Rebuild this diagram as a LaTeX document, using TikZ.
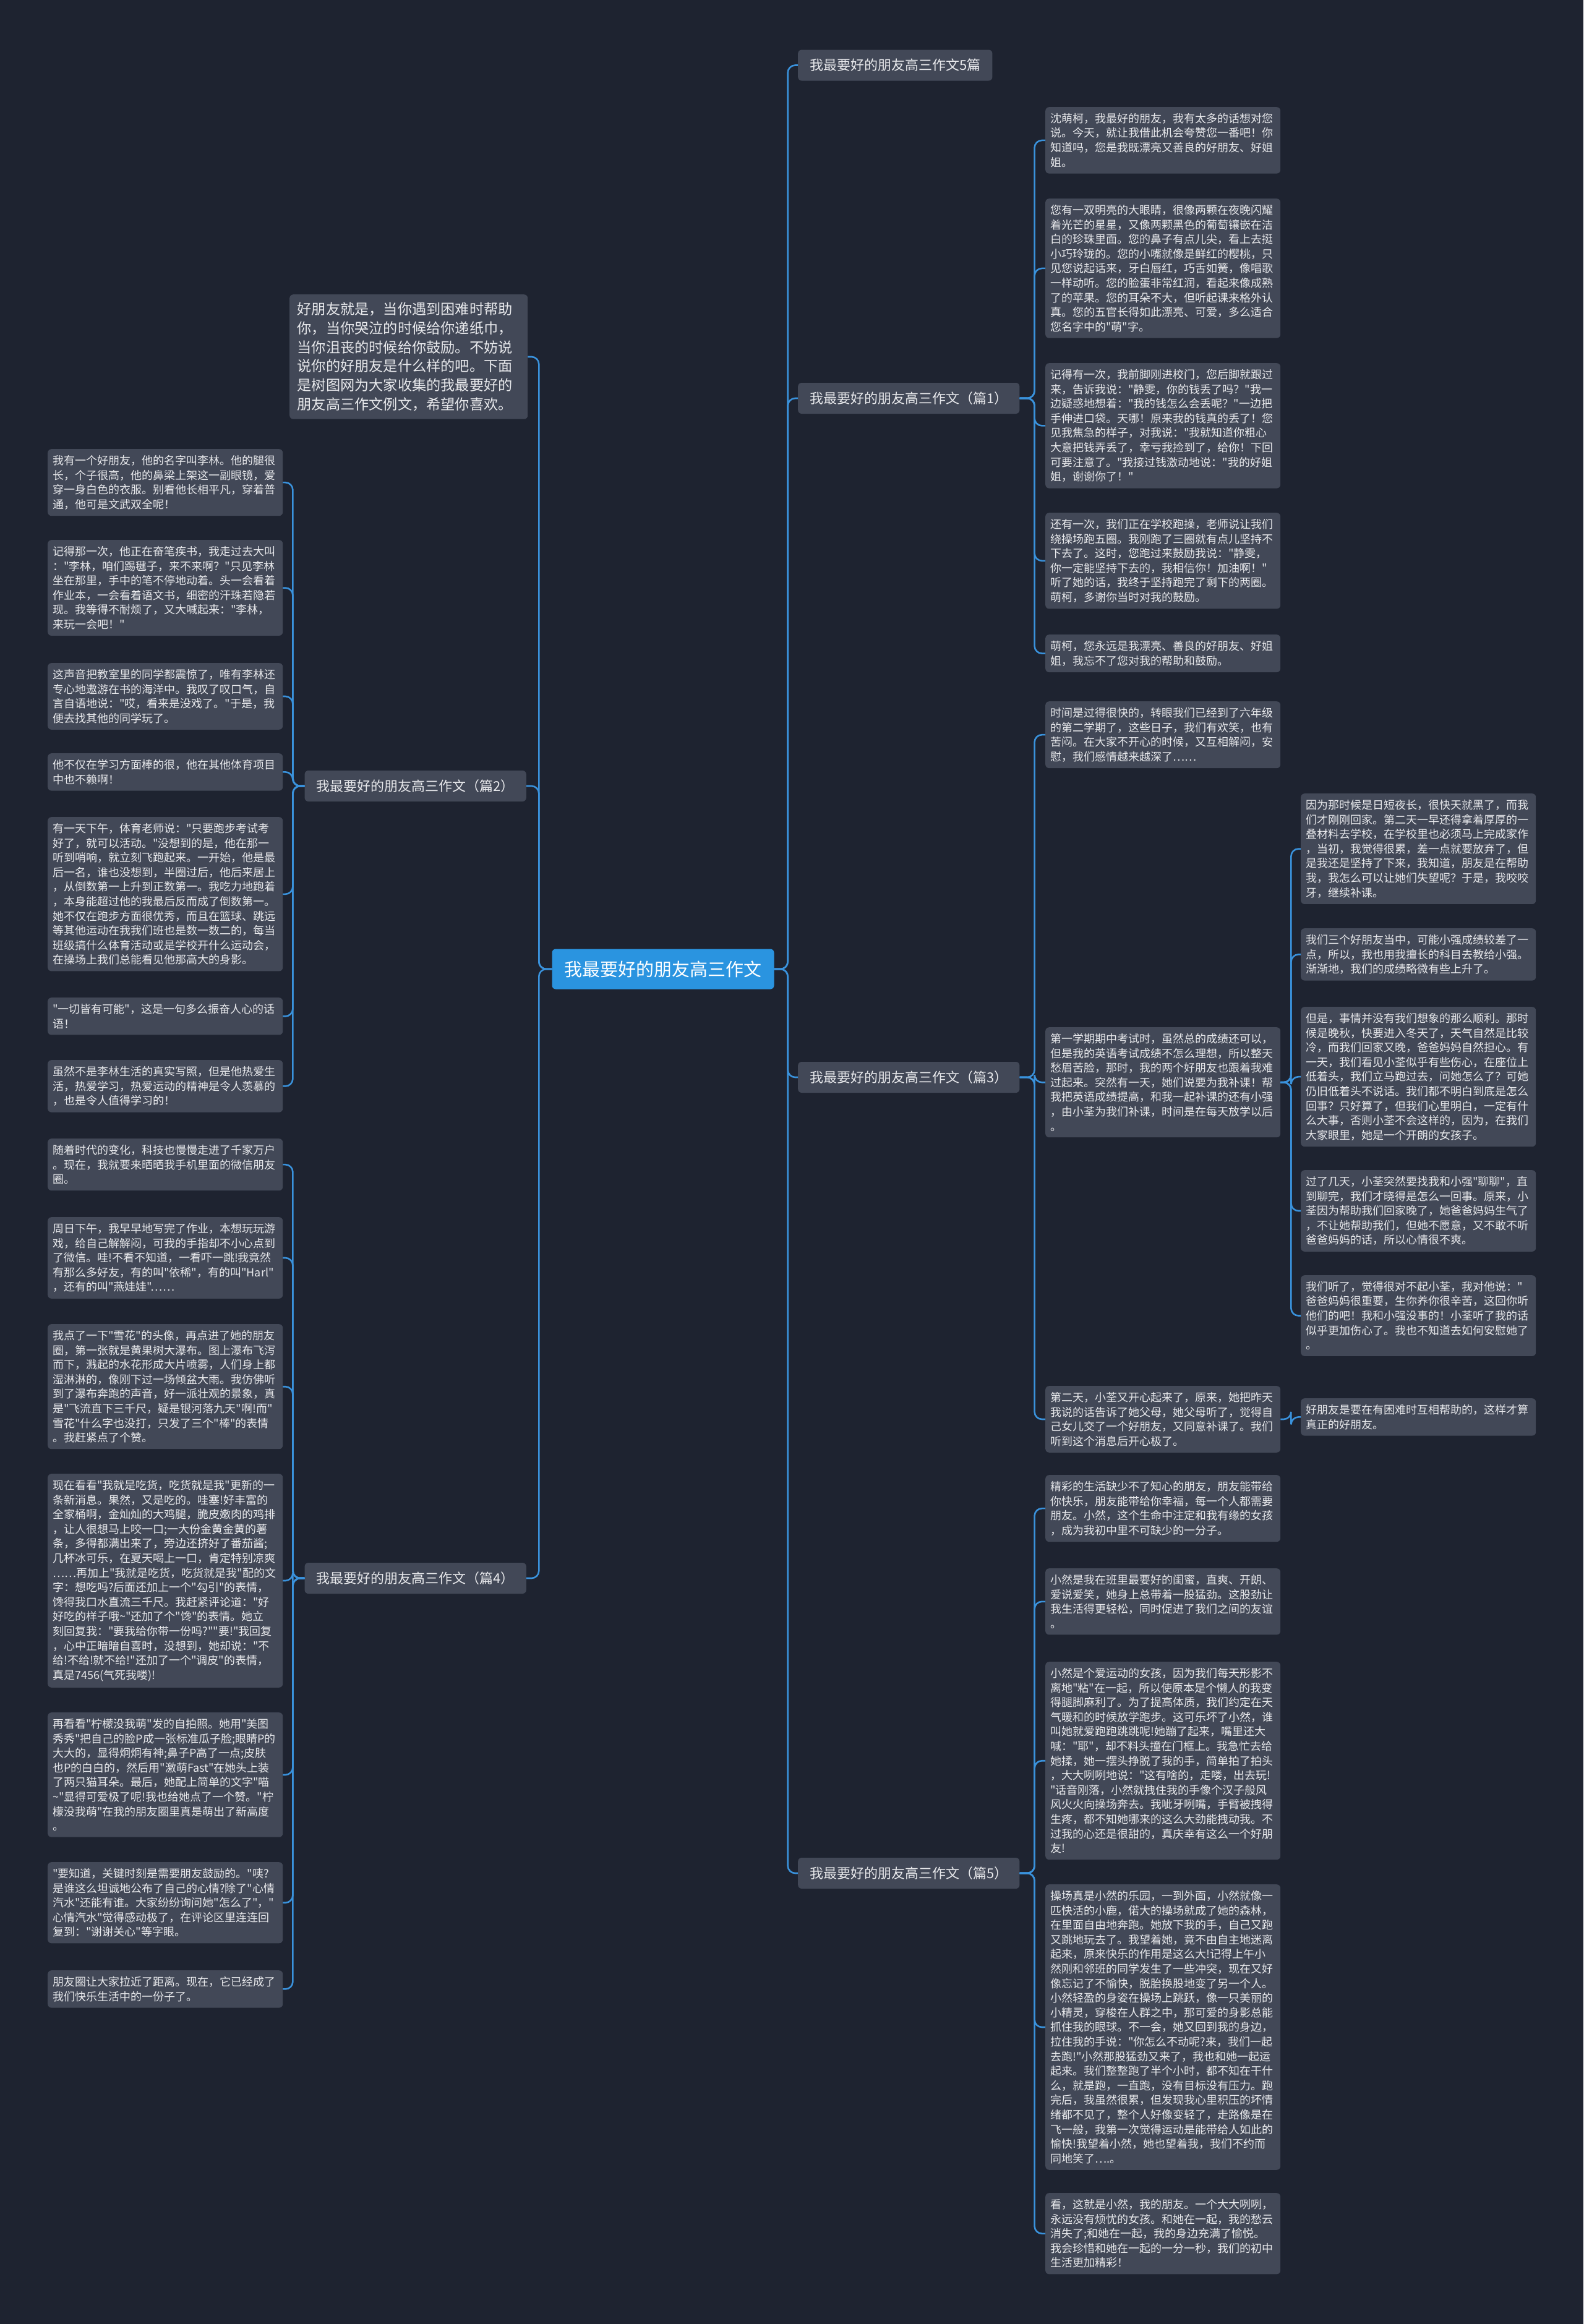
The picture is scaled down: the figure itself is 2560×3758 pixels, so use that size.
\documentclass[tikz,border=0pt]{standalone}
\usepackage{fontspec}
\newfontfamily\shutufont{Noto Sans CJK SC}
\usetikzlibrary{positioning}
\definecolor{shutubg}{HTML}{1E2330}
\definecolor{shutubox}{HTML}{424857}
\definecolor{shututext}{HTML}{E8E9EC}
\definecolor{shutublue}{HTML}{2A94E0}
\definecolor{shutuline}{HTML}{3A92DC}

\tikzset{
  leaf/.style={fill=shutubox, rounded corners=6pt, text=shututext, align=left,
    text width=364pt, inner xsep=8pt, inner ysep=10pt, anchor=north west,
    font=\shutufont\fontsize{18}{23.6}\selectfont},
  introbox/.style={leaf, text width=360pt, inner xsep=12.5pt, inner ysep=13pt,
    font=\shutufont\fontsize{23.2}{30.7}\selectfont},
  branch/.style={fill=shutubox, rounded corners=6pt, text=shututext,
    inner xsep=19pt, minimum height=50pt, font=\shutufont\fontsize{22}{26}\selectfont},
  rootnode/.style={fill=shutublue, rounded corners=6pt, text=white,
    inner xsep=20pt, minimum height=65pt, font=\shutufont\fontsize{29}{34}\selectfont},
  link/.style={draw=shutuline, line width=2.6pt, rounded corners=12pt},
}

\begin{document}
\begin{tikzpicture}[x=1pt,y=-1pt]
  \fill[shutubg] (0,0) rectangle (2560,3758);
  \useasboundingbox (0,0) rectangle (2560,3758);

  % centre and first level
  \node[rootnode] (root) at (1072,1567) {我最要好的朋友高三作文};
  \node[branch,anchor=west] (t0) at (1290,105.5) {我最要好的朋友高三作文5篇};
  \node[branch,anchor=west] (t1) at (1290,644) {我最要好的朋友高三作文（篇1）};
  \node[branch,anchor=west] (t3) at (1290,1742) {我最要好的朋友高三作文（篇3）};
  \node[branch,anchor=west] (t5) at (1290,3029) {我最要好的朋友高三作文（篇5）};
  \node[branch,anchor=east] (t2) at (851,1271) {我最要好的朋友高三作文（篇2）};
  \node[branch,anchor=east] (t4) at (851,2552) {我最要好的朋友高三作文（篇4）};
  \node[introbox] (intro) at (468,476) {好朋友就是，当你遇到困难时帮助\\
    你，当你哭泣的时候给你递纸巾，\\
    当你沮丧的时候给你鼓励。不妨说\\
    说你的好朋友是什么样的吧。下面\\
    是树图网为大家收集的我最要好的\\
    朋友高三作文例文，希望你喜欢。};

  % (篇1)
  \node[leaf] (t1a) at (1690,173) {沈萌柯，我最好的朋友，我有太多的话想对您\\
    说。今天，就让我借此机会夸赞您一番吧！你\\
    知道吗，您是我既漂亮又善良的好朋友、好姐\\
    姐。};
  \node[leaf] (t1b) at (1690,321) {您有一双明亮的大眼睛，很像两颗在夜晚闪耀\\
    着光芒的星星，又像两颗黑色的葡萄镶嵌在洁\\
    白的珍珠里面。您的鼻子有点儿尖，看上去挺\\
    小巧玲珑的。您的小嘴就像是鲜红的樱桃，只\\
    见您说起话来，牙白唇红，巧舌如簧，像唱歌\\
    一样动听。您的脸蛋非常红润，看起来像成熟\\
    了的苹果。您的耳朵不大，但听起课来格外认\\
    真。您的五官长得如此漂亮、可爱，多么适合\\
    您名字中的"萌"字。};
  \node[leaf] (t1c) at (1690,587) {记得有一次，我前脚刚进校门，您后脚就跟过\\
    来，告诉我说："静雯，你的钱丢了吗？"我一\\
    边疑惑地想着："我的钱怎么会丢呢？"一边把\\
    手伸进口袋。天哪！原来我的钱真的丢了！您\\
    见我焦急的样子，对我说："我就知道你粗心\\
    大意把钱弄丢了，幸亏我捡到了，给你！下回\\
    可要注意了。"我接过钱激动地说："我的好姐\\
    姐，谢谢你了！"};
  \node[leaf] (t1d) at (1690,829) {还有一次，我们正在学校跑操，老师说让我们\\
    绕操场跑五圈。我刚跑了三圈就有点儿坚持不\\
    下去了。这时，您跑过来鼓励我说："静雯，\\
    你一定能坚持下去的，我相信你！加油啊！"\\
    听了她的话，我终于坚持跑完了剩下的两圈。\\
    萌柯，多谢你当时对我的鼓励。};
  \node[leaf] (t1e) at (1690,1026) {萌柯，您永远是我漂亮、善良的好朋友、好姐\\
    姐，我忘不了您对我的帮助和鼓励。};

  % (篇3)
  \node[leaf] (t3a) at (1690,1134) {时间是过得很快的，转眼我们已经到了六年级\\
    的第二学期了，这些日子，我们有欢笑，也有\\
    苦闷。在大家不开心的时候，又互相解闷，安\\
    慰，我们感情越来越深了……};
  \node[leaf] (t3b) at (1690,1661) {第一学期期中考试时，虽然总的成绩还可以，\\
    但是我的英语考试成绩不怎么理想，所以整天\\
    愁眉苦脸，那时，我的两个好朋友也跟着我难\\
    过起来。突然有一天，她们说要为我补课！帮\\
    我把英语成绩提高，和我一起补课的还有小强\\
    ，由小荃为我们补课，时间是在每天放学以后\\
    。};
  \node[leaf] (t3c) at (1690,2241) {第二天，小荃又开心起来了，原来，她把昨天\\
    我说的话告诉了她父母，她父母听了，觉得自\\
    己女儿交了一个好朋友，又同意补课了。我们\\
    听到这个消息后开心极了。};
  \node[leaf] (t3ba) at (2103,1283) {因为那时候是日短夜长，很快天就黑了，而我\\
    们才刚刚回家。第二天一早还得拿着厚厚的一\\
    叠材料去学校，在学校里也必须马上完成家作\\
    ，当初，我觉得很累，差一点就要放弃了，但\\
    是我还是坚持了下来，我知道，朋友是在帮助\\
    我，我怎么可以让她们失望呢？于是，我咬咬\\
    牙，继续补课。};
  \node[leaf] (t3bb) at (2103,1501) {我们三个好朋友当中，可能小强成绩较差了一\\
    点，所以，我也用我擅长的科目去教给小强。\\
    渐渐地，我们的成绩略微有些上升了。};
  \node[leaf] (t3bc) at (2103,1628) {但是，事情并没有我们想象的那么顺利。那时\\
    候是晚秋，快要进入冬天了，天气自然是比较\\
    冷，而我们回家又晚，爸爸妈妈自然担心。有\\
    一天，我们看见小荃似乎有些伤心，在座位上\\
    低着头，我们立马跑过去，问她怎么了？可她\\
    仍旧低着头不说话。我们都不明白到底是怎么\\
    回事？只好算了，但我们心里明白，一定有什\\
    么大事，否则小荃不会这样的，因为，在我们\\
    大家眼里，她是一个开朗的女孩子。};
  \node[leaf] (t3bd) at (2103,1892) {过了几天，小荃突然要找我和小强"聊聊"，直\\
    到聊完，我们才晓得是怎么一回事。原来，小\\
    荃因为帮助我们回家晚了，她爸爸妈妈生气了\\
    ，不让她帮助我们，但她不愿意，又不敢不听\\
    爸爸妈妈的话，所以心情很不爽。};
  \node[leaf] (t3be) at (2103,2062) {我们听了，觉得很对不起小荃，我对他说："\\
    爸爸妈妈很重要，生你养你很辛苦，这回你听\\
    他们的吧！我和小强没事的！小荃听了我的话\\
    似乎更加伤心了。我也不知道去如何安慰她了\\
    。};
  \node[leaf] (t3ca) at (2103,2261) {好朋友是要在有困难时互相帮助的，这样才算\\
    真正的好朋友。};

  % (篇5)
  \node[leaf] (t5a) at (1690,2385) {精彩的生活缺少不了知心的朋友，朋友能带给\\
    你快乐，朋友能带给你幸福，每一个人都需要\\
    朋友。小然，这个生命中注定和我有缘的女孩\\
    ，成为我初中里不可缺少的一分子。};
  \node[leaf] (t5b) at (1690,2536) {小然是我在班里最要好的闺蜜，直爽、开朗、\\
    爱说爱笑，她身上总带着一股猛劲。这股劲让\\
    我生活得更轻松，同时促进了我们之间的友谊\\
    。};
  \node[leaf] (t5c) at (1690,2687) {小然是个爱运动的女孩，因为我们每天形影不\\
    离地"粘"在一起，所以使原本是个懒人的我变\\
    得腿脚麻利了。为了提高体质，我们约定在天\\
    气暖和的时候放学跑步。这可乐坏了小然，谁\\
    叫她就爱跑跑跳跳呢!她蹦了起来，嘴里还大\\
    喊："耶"，却不料头撞在门框上。我急忙去给\\
    她揉，她一摆头挣脱了我的手，简单拍了拍头\\
    ，大大咧咧地说："这有啥的，走喽，出去玩!\\
    "话音刚落，小然就拽住我的手像个汉子般风\\
    风火火向操场奔去。我呲牙咧嘴，手臂被拽得\\
    生疼，都不知她哪来的这么大劲能拽动我。不\\
    过我的心还是很甜的，真庆幸有这么一个好朋\\
    友!};
  \node[leaf] (t5d) at (1690,3047) {操场真是小然的乐园，一到外面，小然就像一\\
    匹快活的小鹿，偌大的操场就成了她的森林，\\
    在里面自由地奔跑。她放下我的手，自己又跑\\
    又跳地玩去了。我望着她，竟不由自主地迷离\\
    起来，原来快乐的作用是这么大!记得上午小\\
    然刚和邻班的同学发生了一些冲突，现在又好\\
    像忘记了不愉快，脱胎换股地变了另一个人。\\
    小然轻盈的身姿在操场上跳跃，像一只美丽的\\
    小精灵，穿梭在人群之中，那可爱的身影总能\\
    抓住我的眼球。不一会，她又回到我的身边，\\
    拉住我的手说："你怎么不动呢?来，我们一起\\
    去跑!"小然那股猛劲又来了，我也和她一起运\\
    起来。我们整整跑了半个小时，都不知在干什\\
    么，就是跑，一直跑，没有目标没有压力。跑\\
    完后，我虽然很累，但发现我心里积压的坏情\\
    绪都不见了，整个人好像变轻了，走路像是在\\
    飞一般，我第一次觉得运动是能带给人如此的\\
    愉快!我望着小然，她也望着我，我们不约而\\
    同地笑了….。};
  \node[leaf] (t5e) at (1690,3546) {看，这就是小然，我的朋友。一个大大咧咧，\\
    永远没有烦忧的女孩。和她在一起，我的愁云\\
    消失了;和她在一起，我的身边充满了愉悦。\\
    我会珍惜和她在一起的一分一秒，我们的初中\\
    生活更加精彩！};

  % (篇2)
  \node[leaf] (t2a) at (77,726) {我有一个好朋友，他的名字叫李林。他的腿很\\
    长，个子很高，他的鼻梁上架这一副眼镜，爱\\
    穿一身白色的衣服。别看他长相平凡，穿着普\\
    通，他可是文武双全呢！};
  \node[leaf] (t2b) at (77,873) {记得那一次，他正在奋笔疾书，我走过去大叫\\
    ："李林，咱们踢毽子，来不来啊？"只见李林\\
    坐在那里，手中的笔不停地动着。头一会看着\\
    作业本，一会看着语文书，细密的汗珠若隐若\\
    现。我等得不耐烦了，又大喊起来："李林，\\
    来玩一会吧！"};
  \node[leaf] (t2c) at (77,1072) {这声音把教室里的同学都震惊了，唯有李林还\\
    专心地遨游在书的海洋中。我叹了叹口气，自\\
    言自语地说："哎，看来是没戏了。"于是，我\\
    便去找其他的同学玩了。};
  \node[leaf] (t2d) at (77,1218) {他不仅在学习方面棒的很，他在其他体育项目\\
    中也不赖啊！};
  \node[leaf] (t2e) at (77,1321) {有一天下午，体育老师说："只要跑步考试考\\
    好了，就可以活动。"没想到的是，他在那一\\
    听到哨响，就立刻飞跑起来。一开始，他是最\\
    后一名，谁也没想到，半圈过后，他后来居上\\
    ，从倒数第一上升到正数第一。我吃力地跑着\\
    ，本身能超过他的我最后反而成了倒数第一。\\
    她不仅在跑步方面很优秀，而且在篮球、跳远\\
    等其他运动在我我们班也是数一数二的，每当\\
    班级搞什么体育活动或是学校开什么运动会，\\
    在操场上我们总能看见他那高大的身影。};
  \node[leaf] (t2f) at (77,1613) {"一切皆有可能"，这是一句多么振奋人心的话\\
    语！};
  \node[leaf] (t2g) at (77,1714) {虽然不是李林生活的真实写照，但是他热爱生\\
    活，热爱学习，热爱运动的精神是令人羡慕的\\
    ，也是令人值得学习的！};

  % (篇4)
  \node[leaf] (t4a) at (77,1841) {随着时代的变化，科技也慢慢走进了千家万户\\
    。现在，我就要来晒晒我手机里面的微信朋友\\
    圈。};
  \node[leaf] (t4b) at (77,1968) {周日下午，我早早地写完了作业，本想玩玩游\\
    戏，给自己解解闷，可我的手指却不小心点到\\
    了微信。哇!不看不知道，一看吓一跳!我竟然\\
    有那么多好友，有的叫"依稀"，有的叫"Harl"\\
    ，还有的叫"燕娃娃"……};
  \node[leaf] (t4c) at (77,2141) {我点了一下"雪花"的头像，再点进了她的朋友\\
    圈，第一张就是黄果树大瀑布。图上瀑布飞泻\\
    而下，溅起的水花形成大片喷雾，人们身上都\\
    湿淋淋的，像刚下过一场倾盆大雨。我仿佛听\\
    到了瀑布奔跑的声音，好一派壮观的景象，真\\
    是"飞流直下三千尺，疑是银河落九天"啊!而"\\
    雪花"什么字也没打，只发了三个"棒"的表情\\
    。我赶紧点了个赞。};
  \node[leaf] (t4d) at (77,2383) {现在看看"我就是吃货，吃货就是我"更新的一\\
    条新消息。果然，又是吃的。哇塞!好丰富的\\
    全家桶啊，金灿灿的大鸡腿，脆皮嫩肉的鸡排\\
    ，让人很想马上咬一口;一大份金黄金黄的薯\\
    条，多得都满出来了，旁边还挤好了番茄酱;\\
    几杯冰可乐，在夏天喝上一口，肯定特别凉爽\\
    ……再加上"我就是吃货，吃货就是我"配的文\\
    字：想吃吗?后面还加上一个"勾引"的表情，\\
    馋得我口水直流三千尺。我赶紧评论道："好\\
    好吃的样子哦\textasciitilde"还加了个"馋"的表情。她立\\
    刻回复我："要我给你带一份吗?""要!"我回复\\
    ，心中正暗暗自喜时，没想到，她却说："不\\
    给!不给!就不给!"还加了一个"调皮"的表情，\\
    真是7456(气死我喽)!};
  \node[leaf] (t4e) at (77,2769) {再看看"柠檬没我萌"发的自拍照。她用"美图\\
    秀秀"把自己的脸P成一张标准瓜子脸;眼睛P的\\
    大大的，显得炯炯有神;鼻子P高了一点;皮肤\\
    也P的白白的，然后用"激萌Fast"在她头上装\\
    了两只猫耳朵。最后，她配上简单的文字"喵\\
    \textasciitilde"显得可爱极了呢!我也给她点了一个赞。"柠\\
    檬没我萌"在我的朋友圈里真是萌出了新高度\\
    。};
  \node[leaf] (t4f) at (77,3011) {"要知道，关键时刻是需要朋友鼓励的。"咦?\\
    是谁这么坦诚地公布了自己的心情?除了"心情\\
    汽水"还能有谁。大家纷纷询问她"怎么了"，"\\
    心情汽水"觉得感动极了，在评论区里连连回\\
    复到："谢谢关心"等字眼。};
  \node[leaf] (t4g) at (77,3186) {朋友圈让大家拉近了距离。现在，它已经成了\\
    我们快乐生活中的一份子了。};

  % connectors
  \foreach \c in {t0,t1,t3,t5}
    \draw[link] (root.east) -- ++(22,0) |- (\c.west);
  \foreach \c in {intro,t2,t4}
    \draw[link] (root.west) -- ++(-21,0) |- (\c.east);
  \foreach \c in {t1a,t1b,t1c,t1d,t1e}
    \draw[link] (t1.east) -- ++(24,0) |- (\c.west);
  \foreach \c in {t3a,t3b,t3c}
    \draw[link] (t3.east) -- ++(24,0) |- (\c.west);
  \foreach \c in {t3ba,t3bb,t3bc,t3bd,t3be}
    \draw[link] (t3b.east) -- ++(17,0) |- (\c.west);
  \draw[link] (t3c.east) -- ++(17,0) |- (t3ca.west);
  \foreach \c in {t5a,t5b,t5c,t5d,t5e}
    \draw[link] (t5.east) -- ++(24,0) |- (\c.west);
  \foreach \c in {t2a,t2b,t2c,t2d,t2e,t2f,t2g}
    \draw[link] (t2.west) -- ++(-19,0) |- (\c.east);
  \foreach \c in {t4a,t4b,t4c,t4d,t4e,t4f,t4g}
    \draw[link] (t4.west) -- ++(-19,0) |- (\c.east);
\end{tikzpicture}
\end{document}
